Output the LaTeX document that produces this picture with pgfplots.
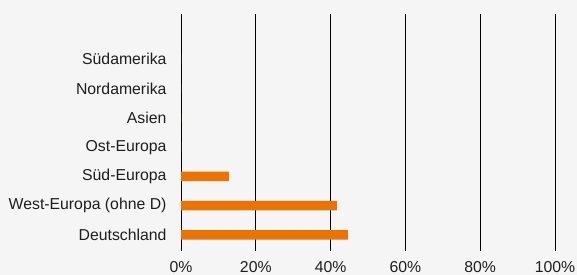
\documentclass[border=0pt]{standalone}
\usepackage{pgfplots}
\pgfplotsset{compat=1.18}
\usepackage{fontspec}
\setmainfont{Liberation Sans}
\definecolor{bg}{HTML}{F5F5F5}
\definecolor{barc}{HTML}{EA7304}
\definecolor{txt}{HTML}{1E1E1E}
\begin{document}
\begin{tikzpicture}
\useasboundingbox (0,0) rectangle (577pt,275pt);
\fill[bg] (0,0) rectangle (577pt,275pt);
\begin{axis}[
  at={(181pt,24pt)}, anchor=south west,
  scale only axis, width=374pt, height=237pt,
  xmin=0, xmax=100, ymin=-0.55, ymax=7.55,
  axis line style={draw=none},
  xmajorgrids, grid style={black, line width=0.8pt},
  xtick={0,20,40,60,80,100},
  xticklabel={\pgfmathprintnumber{\tick}\%},
  ytick={0,1,2,3,4,5,6},
  yticklabels={Deutschland, West-Europa (ohne D), Süd-Europa, Ost-Europa, Asien, Nordamerika, Südamerika},
  major tick length=0pt,
  tick label style={font=\fontsize{15.8}{18}\selectfont, text=txt},
  /pgf/number format/assume math mode=true,
  xticklabel style={yshift=-7pt},
  yticklabel style={xshift=-11pt},
  xbar, bar width=9.5pt,
]
\addplot[fill=barc, draw=none] coordinates {(44.6,0) (41.7,1) (12.8,2) (0,3) (0,4) (0,5) (0,6)};
\end{axis}
\end{tikzpicture}
\end{document}
